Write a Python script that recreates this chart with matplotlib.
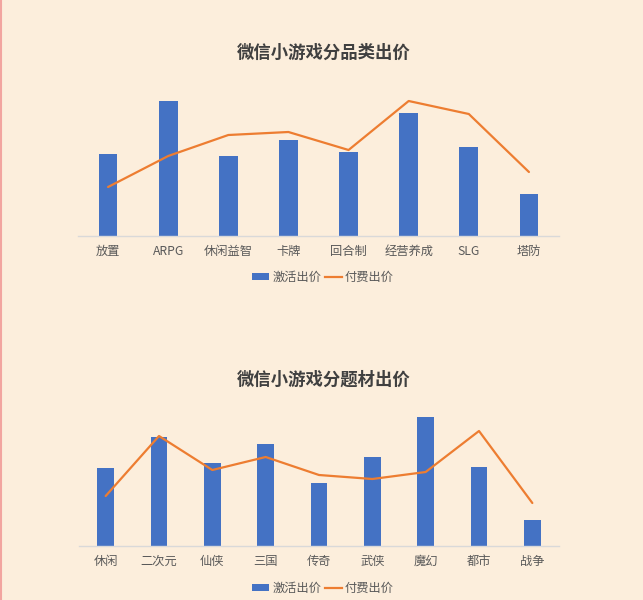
import matplotlib
matplotlib.use('Agg')
import matplotlib.pyplot as plt
from matplotlib.patches import Patch
from matplotlib.lines import Line2D

plt.rcParams['font.family'] = ['Noto Sans CJK SC', 'DejaVu Sans']

bg = '#FCEEDC'
blue = '#4472C4'
orange = '#ED7D31'

# chart 1: by genre
cats1 = ['放置', 'ARPG', '休闲益智', '卡牌', '回合制', '经营养成', 'SLG', '塔防']
act1 = [82, 135, 80, 96, 84, 123, 89, 42]
pay1 = [49, 80, 101, 104, 86, 135, 122, 64]

# chart 2: by theme
cats2 = ['休闲', '二次元', '仙侠', '三国', '传奇', '武侠', '魔幻', '都市', '战争']
act2 = [78, 109, 83, 102, 63, 89, 129, 79, 26]
pay2 = [50, 110, 76, 89, 71, 67, 74, 115, 43]

titles = ['微信小游戏分品类出价', '微信小游戏分题材出价']
legend_labels = ['激活出价', '付费出价']

W, H = 643, 600
fig = plt.figure(figsize=(W / 100, H / 100), dpi=100)
fig.patch.set_facecolor(bg)


def draw(ax, cats, act, pay):
    x = list(range(len(cats)))
    ax.set_facecolor(bg)
    ax.bar(x, act, width=0.31, color=blue, zorder=2)
    ax.plot(x, pay, color=orange, lw=1.6, zorder=3, solid_capstyle='round')
    ax.set_xlim(-0.5, len(cats) - 0.5)
    ax.set_ylim(0, 146)
    ax.set_xticks(x)
    ax.set_xticklabels(cats, fontsize=8.8, color='#595959')
    ax.tick_params(axis='x', length=0, pad=6.3)
    ax.set_yticks([])
    for s in ['top', 'right', 'left']:
        ax.spines[s].set_visible(False)
    ax.spines['bottom'].set_color('#D9D9D9')
    ax.spines['bottom'].set_linewidth(1.0)


ax1 = fig.add_axes([78 / W, 1 - 236 / H, 481 / W, 146 / H])
draw(ax1, cats1, act1, pay1)
ax2 = fig.add_axes([79 / W, 1 - 546 / H, 480 / W, 146 / H])
draw(ax2, cats2, act2, pay2)

handles = [Patch(facecolor=blue, edgecolor='none'),
           Line2D([0], [0], color=orange, lw=1.6)]
for t, ty, ly in [(titles[0], 53, 277), (titles[1], 380, 588)]:
    fig.text(324 / W, 1 - ty / H, t, ha='center', va='center', fontsize=12.5,
             fontweight='bold', color='#404040')
    fig.legend(handles, legend_labels, loc='center', bbox_to_anchor=(323 / W, 1 - ly / H),
               ncol=2, frameon=False, fontsize=8.8, labelcolor='#595959',
               handlelength=1.4, handleheight=0.5, handletextpad=0.25,
               columnspacing=0.3, borderpad=0)

# thin pink border on the left edge
fig.add_artist(Line2D([0.8 / W, 0.8 / W], [0, 1], color='#F2A5A0', lw=1.5,
                      transform=fig.transFigure))

fig.savefig('out.png', dpi=100, facecolor=bg)
